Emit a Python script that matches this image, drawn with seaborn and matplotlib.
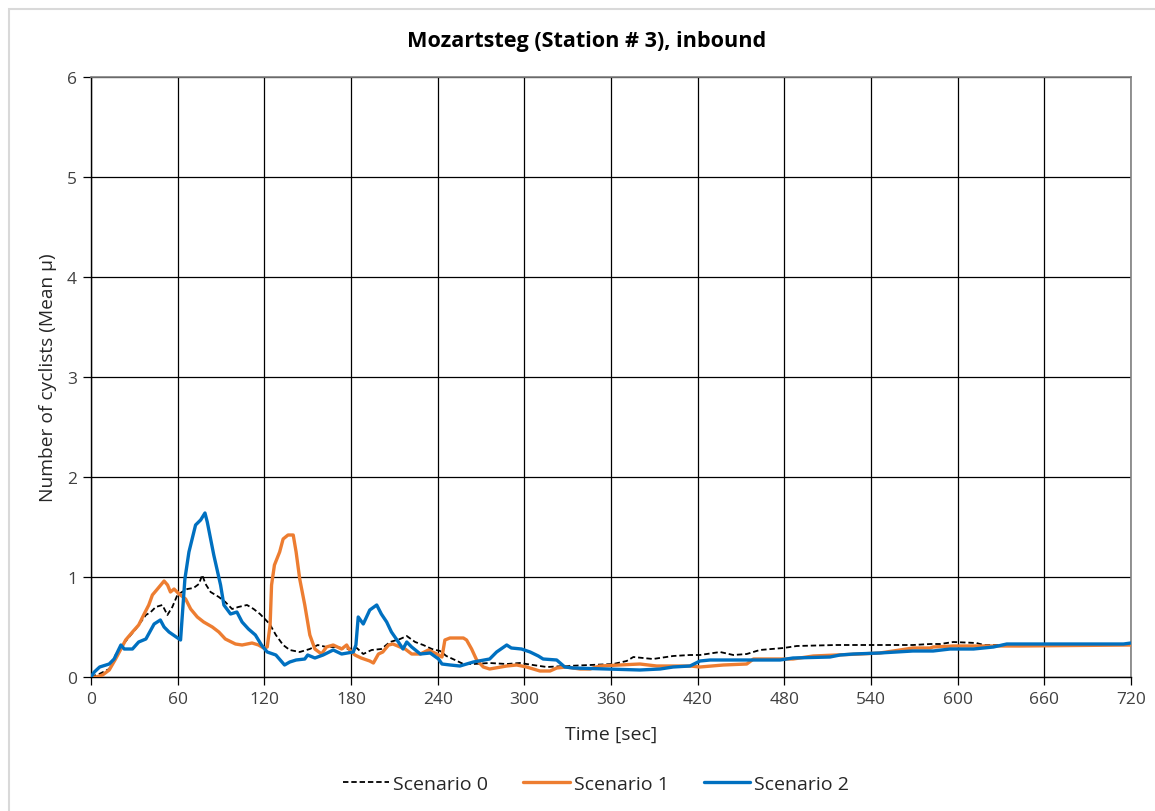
import matplotlib
matplotlib.use("Agg")
import matplotlib.pyplot as plt
import seaborn as sns
import pandas as pd
from matplotlib.patches import Rectangle

# Scenario 0 (baseline) – mean number of cyclists over time
t0 = [0, 5.7, 12.6, 17, 21.8, 26.4, 31, 38, 41.4, 44.8, 49.4, 52.9, 56.3, 59.8, 63, 66.7, 71,
      74.7, 77, 79.3, 82.8, 88.5, 93, 97.7, 102, 108, 112.6, 117, 123.7, 128, 133, 137.6,
      144.5, 151.5, 157, 163, 170, 177, 184, 188.5, 194.3, 201, 207, 214, 218.6, 224.4, 230,
      236, 241.7, 246, 252, 257.8, 264.7, 276, 287.8, 297, 306, 315.5, 329, 345.5, 361.6,
      370.8, 375.5, 389, 403, 414.7, 421.6, 435.5, 444.7, 454, 463, 479.4, 488.6, 516,
      541.6, 569, 581, 588, 597, 613, 618, 629, 640, 680, 720]
v0 = [0, 0.03, 0.08, 0.22, 0.32, 0.40, 0.48, 0.62, 0.65, 0.70, 0.72, 0.62, 0.70, 0.82, 0.85,
      0.88, 0.89, 0.93, 1.02, 0.93, 0.85, 0.80, 0.75, 0.68, 0.70, 0.72, 0.68, 0.63, 0.53, 0.42,
      0.32, 0.27, 0.25, 0.28, 0.32, 0.30, 0.30, 0.28, 0.29, 0.23, 0.27, 0.28, 0.35, 0.38, 0.41,
      0.35, 0.32, 0.28, 0.26, 0.21, 0.17, 0.13, 0.13, 0.14, 0.13, 0.14, 0.12, 0.10, 0.11,
      0.12, 0.13, 0.16, 0.20, 0.18, 0.21, 0.22, 0.22, 0.25, 0.22, 0.23, 0.27, 0.29, 0.31,
      0.32, 0.32, 0.32, 0.33, 0.33, 0.35, 0.34, 0.32, 0.32, 0.33, 0.33, 0.33]

# Scenario 1
t1 = [0, 3.4, 8, 12.6, 17, 20.7, 24, 28.7, 33, 36.8, 40, 42.5, 46, 50.6, 53, 55, 57.5, 61,
      65.5, 69, 73.6, 78, 84, 88.5, 93, 100, 104.6, 111.5, 116, 119.5, 122, 124, 125, 127,
      130.6, 133, 136.4, 140, 142, 144.5, 148, 151.5, 155, 159.6, 163, 167.7, 173.5, 177,
      179, 182.7, 187, 193, 195.5, 199, 202, 206, 209, 214, 217.5, 222, 228, 233.6, 239.4,
      243, 245, 248.5, 253, 257.8, 260, 263.5, 267, 271.6, 276, 287.8, 294.7, 301.6,
      310.8, 317.8, 322.4, 329, 338.5, 345.5, 352, 366, 380, 391.6, 414.7, 421.6, 437.8,
      454, 458.6, 477, 486, 500, 516, 532.4, 546, 560, 569, 581, 583, 597, 625, 643, 720]
v1 = [0, 0, 0.02, 0.07, 0.18, 0.28, 0.37, 0.45, 0.52, 0.63, 0.72, 0.82, 0.88, 0.96, 0.92,
      0.85, 0.88, 0.83, 0.78, 0.68, 0.60, 0.55, 0.50, 0.45, 0.38, 0.33, 0.32, 0.34, 0.32,
      0.29, 0.30, 0.52, 0.92, 1.12, 1.25, 1.38, 1.42, 1.42, 1.25, 0.98, 0.72, 0.42, 0.28,
      0.23, 0.30, 0.32, 0.28, 0.32, 0.27, 0.22, 0.19, 0.16, 0.14, 0.23, 0.25, 0.32, 0.33,
      0.30, 0.28, 0.23, 0.23, 0.27, 0.23, 0.20, 0.37, 0.39, 0.39, 0.39, 0.37, 0.28, 0.17,
      0.10, 0.08, 0.11, 0.12, 0.10, 0.06, 0.06, 0.09, 0.10, 0.08, 0.08, 0.11, 0.12, 0.13,
      0.11, 0.11, 0.10, 0.12, 0.13, 0.18, 0.18, 0.18, 0.21, 0.22, 0.23, 0.24, 0.27, 0.29,
      0.29, 0.30, 0.31, 0.31, 0.31, 0.32]

# Scenario 2
t2 = [0, 2.3, 6, 12.6, 16, 20.7, 23, 28.7, 33, 38, 43.7, 48, 50.6, 54, 62, 65, 67.8, 72.4,
      75.9, 78.9, 80.5, 85, 89.7, 92, 96.6, 101, 104.6, 109, 113.8, 118, 122, 128, 134,
      137.6, 142, 148, 150, 155, 160.7, 167.7, 173.5, 181.6, 183.4, 185, 188.5, 193, 197.8,
      201, 204.7, 208, 212.8, 216, 218.6, 222, 228, 234.8, 240.6, 243, 248.7, 255.4,
      264.7, 276, 280.8, 287.8, 291, 298, 304, 309.7, 313, 322.4, 328, 334, 357, 380, 394,
      403, 414.7, 421.6, 428.6, 477, 486, 511.6, 518.6, 527.8, 546, 569, 583, 594.8, 611,
      624.8, 634, 714.8, 720]
v2 = [0, 0.05, 0.10, 0.13, 0.18, 0.32, 0.28, 0.28, 0.35, 0.38, 0.53, 0.57, 0.50, 0.45, 0.37,
      0.98, 1.25, 1.52, 1.57, 1.64, 1.55, 1.22, 0.92, 0.72, 0.63, 0.65, 0.55, 0.48, 0.42,
      0.32, 0.25, 0.22, 0.12, 0.15, 0.17, 0.18, 0.22, 0.19, 0.22, 0.27, 0.23, 0.25, 0.32,
      0.60, 0.53, 0.67, 0.72, 0.63, 0.55, 0.45, 0.35, 0.28, 0.35, 0.30, 0.23, 0.24, 0.18,
      0.13, 0.12, 0.11, 0.15, 0.18, 0.25, 0.32, 0.29, 0.28, 0.25, 0.21, 0.18, 0.17, 0.10,
      0.09, 0.08, 0.07, 0.08, 0.10, 0.11, 0.16, 0.17, 0.17, 0.19, 0.20, 0.22, 0.23, 0.24,
      0.26, 0.26, 0.28, 0.28, 0.30, 0.33, 0.33, 0.34]

series_names = ["Scenario 0", "Scenario 1", "Scenario 2"]
x_ticks = list(range(0, 721, 60))
y_ticks = [0, 1, 2, 3, 4, 5, 6]

df = pd.concat([
    pd.DataFrame({"time": t0, "value": v0, "series": series_names[0]}),
    pd.DataFrame({"time": t1, "value": v1, "series": series_names[1]}),
    pd.DataFrame({"time": t2, "value": v2, "series": series_names[2]}),
], ignore_index=True)

sns.set_style("white")
plt.rcParams["font.family"] = ["Open Sans", "DejaVu Sans"]

fig = plt.figure(figsize=(11.55, 8.12), dpi=100)
ax = fig.add_axes([91 / 1155, 1 - 678 / 812, 1040 / 1155, 600 / 812])

# light chart-area frame
fig.patches.append(Rectangle((9 / 1155, -0.1), 1.2, 1 - 10 / 812 + 0.1,
                             transform=fig.transFigure, fill=False,
                             edgecolor="#d9d9d9", linewidth=1.5, zorder=0))

styles = {
    "Scenario 0": dict(color="black", lw=1.3, ls=(0, (3, 1.6))),
    "Scenario 1": dict(color="#ED7D31", lw=2.4, ls="-"),
    "Scenario 2": dict(color="#0070C0", lw=2.4, ls="-"),
}
for name in series_names:
    st = styles[name]
    sns.lineplot(data=df[df["series"] == name], x="time", y="value", ax=ax,
                 color=st["color"], linewidth=st["lw"], linestyle=st["ls"],
                 label=name, estimator=None, sort=False, zorder=3)

ax.set_xlim(0, 720)
ax.set_ylim(0, 6)
ax.set_xticks(x_ticks)
ax.set_yticks(y_ticks)
ax.grid(True, color="black", linewidth=0.9)
ax.set_axisbelow(True)
for side in ["top", "right"]:
    ax.spines[side].set_color("#808080")
    ax.spines[side].set_linewidth(1.2)
for side in ["left", "bottom"]:
    ax.spines[side].set_color("black")
    ax.spines[side].set_linewidth(1.0)
ax.tick_params(axis="both", which="major", direction="out", length=6, width=0.9,
               color="black", labelsize=12.5, labelcolor="#404040", pad=4,
               left=True, bottom=True)

ax.set_xlabel("Time [sec]", fontsize=14, color="#262626", labelpad=13)
ax.set_ylabel("Number of cyclists (Mean µ)", fontsize=13.8, color="#262626", labelpad=7)
fig.text(587 / 1155, 1 - 42 / 812, "Mozartsteg (Station # 3), inbound", ha="center",
         va="center", fontsize=15.6, fontweight="bold", color="black")

leg = ax.legend(loc="center", bbox_to_anchor=((596 - 91) / 1040, (678 - 785) / 600), ncol=3,
                frameon=False, fontsize=14, handlelength=2.4, columnspacing=1.8,
                handletextpad=0.2)
for text in leg.get_texts():
    text.set_color("#262626")

fig.savefig("out.png", dpi=100)
